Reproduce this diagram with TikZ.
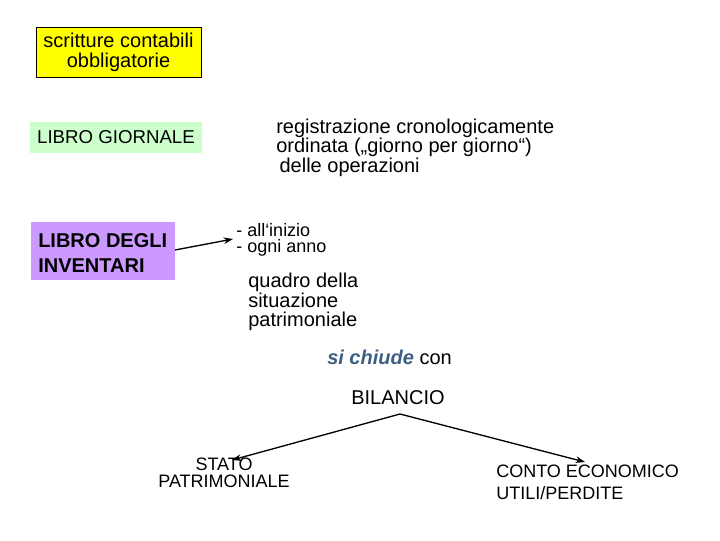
\documentclass[tikz,border=0pt]{standalone}
\usepackage{fontspec}
\setmainfont{Liberation Sans}
\usetikzlibrary{arrows.meta}
\definecolor{yel}{RGB}{255,255,0}
\definecolor{grn}{RGB}{204,255,204}
\definecolor{lil}{RGB}{204,153,255}
\definecolor{blu}{RGB}{60,95,130}
\begin{document}
\begin{tikzpicture}[x=0.75pt,y=-0.75pt,
  txt/.style={inner sep=0pt,font=\fontsize{15}{14.4}\selectfont,align=left},
  arr/.style={-{Stealth[length=7pt,width=5pt]},line width=1pt}]
\useasboundingbox (0,0) rectangle (720,540);
% yellow box
\node[draw,fill=yel,minimum width=165*0.75pt,minimum height=50*0.75pt,inner sep=0pt,
  font=\fontsize{15}{15}\selectfont,align=center] (scr) at (118.5,52) {scritture contabili\\obbligatorie};
% libro giornale
\node[fill=grn,minimum width=172*0.75pt,minimum height=31*0.75pt,inner sep=0pt,
  font=\fontsize{14}{14}\selectfont] (lg) at (116,137.5) {LIBRO GIORNALE};
\node[txt,anchor=north west] (reg) at (276,119) {registrazione cronologicamente\\ordinata („giorno per giorno“)\\ \,delle operazioni};
% libro inventari
\node[fill=lil,minimum width=144*0.75pt,minimum height=58*0.75pt,inner sep=0pt] (li) at (103,251) {};
\node[txt,anchor=west,font=\fontsize{15}{18.75}\selectfont\bfseries] (lit) at (38,253) {LIBRO DEGLI\\INVENTARI};
\node[txt,anchor=north west,font=\fontsize{13.5}{12}\selectfont] (ini) at (236,223) {- all‘inizio\\- ogni anno};
\coordinate (a1) at (175,250);
\coordinate (a2) at (233,239);
\draw[arr] (a1) -- (a2);
\node[txt,anchor=north west,font=\fontsize{15}{14.6}\selectfont] (qua) at (248,273) {quadro della\\situazione\\patrimoniale};
\node[txt,anchor=north west] (chi) at (327,350) {\textcolor{blu}{\bfseries\itshape si chiude} con};
\node[txt,anchor=north west] (bil) at (351,390) {BILANCIO};
\coordinate (ap) at (400,414);
\coordinate (sp) at (232,460);
\coordinate (ce) at (585,462);
\draw[arr] (ap) -- (sp);
\draw[arr] (ap) -- (ce);
\node[txt,align=center,anchor=north,font=\fontsize{13.5}{12.75}\selectfont] (stp) at (224,458) {STATO\\PATRIMONIALE};
\node[txt,anchor=north west,font=\fontsize{13.5}{16.5}\selectfont] (con) at (496,465) {CONTO ECONOMICO\\UTILI/PERDITE};
\end{tikzpicture}
\end{document}
